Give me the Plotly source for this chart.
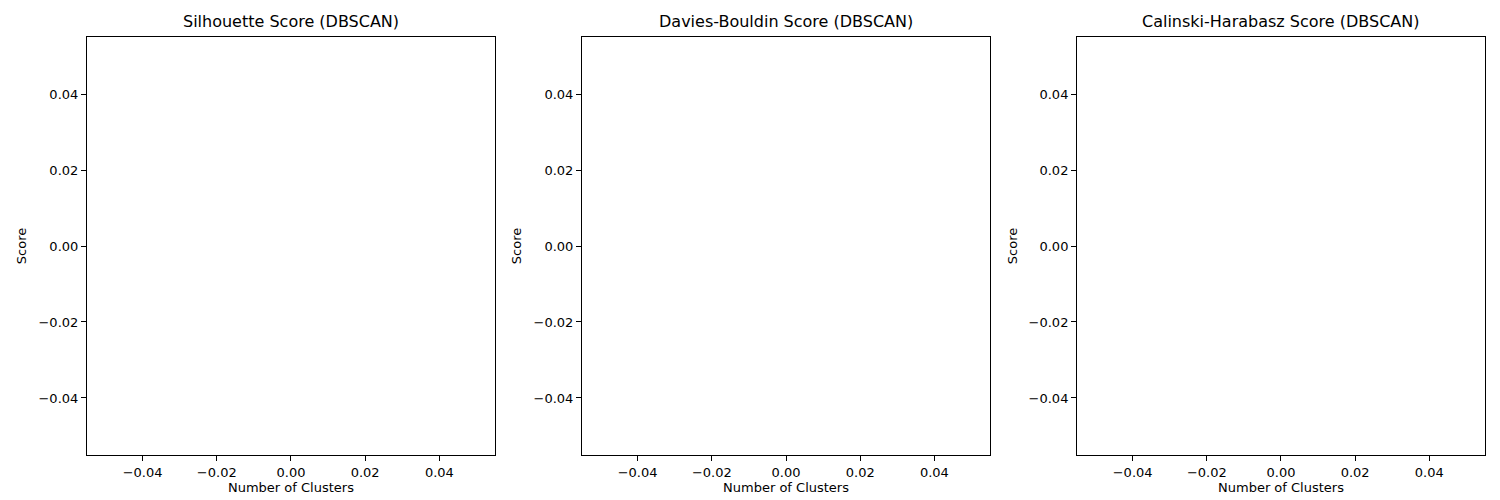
import plotly.graph_objects as go

# DBSCAN produced no valid clusterings, so every series is empty
n_clusters = []
silhouette_scores = []
davies_bouldin_scores = []
calinski_harabasz_scores = []

titles = [
    "Silhouette Score (DBSCAN)",
    "Davies-Bouldin Score (DBSCAN)",
    "Calinski-Harabasz Score (DBSCAN)",
]
tick_vals = [-0.04, -0.02, 0.0, 0.02, 0.04]
tick_text = ["\u22120.04", "\u22120.02", "0.00", "0.02", "0.04"]

# page body has an 8px margin, so the figure is 1492x492 placed at (8, 8)
x_domains = [[0.0529, 0.3264], [0.3847, 0.6582], [0.7165, 0.9899]]
y_domain = [0.0915, 0.941]

fig = go.Figure()
font = dict(family="DejaVu Sans", size=13, color="black")

for i, (scores, title) in enumerate(
    zip([silhouette_scores, davies_bouldin_scores, calinski_harabasz_scores], titles)
):
    sfx = "" if i == 0 else str(i + 1)
    fig.add_trace(go.Scatter(x=n_clusters, y=scores, mode="lines+markers",
                             xaxis="x" + sfx, yaxis="y" + sfx, showlegend=False))
    axis_common = dict(
        range=[-0.055, 0.055], tickvals=tick_vals, ticktext=tick_text,
        showgrid=False, zeroline=False, showline=True, linecolor="black",
        linewidth=1, mirror=True, ticks="outside", ticklen=5,
        tickcolor="black", tickfont=font,
    )
    fig.layout["xaxis" + sfx] = dict(
        axis_common, domain=x_domains[i], anchor="y" + sfx,
        title=dict(text="Number of Clusters", font=font, standoff=4),
    )
    fig.layout["yaxis" + sfx] = dict(
        axis_common, domain=y_domain, anchor="x" + sfx,
        title=dict(text="Score", font=font, standoff=8),
    )
    fig.add_annotation(
        text=title, xref="paper", yref="paper",
        x=sum(x_domains[i]) / 2, y=y_domain[1], xanchor="center",
        yanchor="bottom", yshift=4, showarrow=False,
        font=dict(family="DejaVu Sans", size=16, color="black"),
    )

fig.update_layout(
    width=1492, height=492, margin=dict(l=0, r=0, t=0, b=0),
    plot_bgcolor="white", paper_bgcolor="white",
)
fig.write_html("out.html")
